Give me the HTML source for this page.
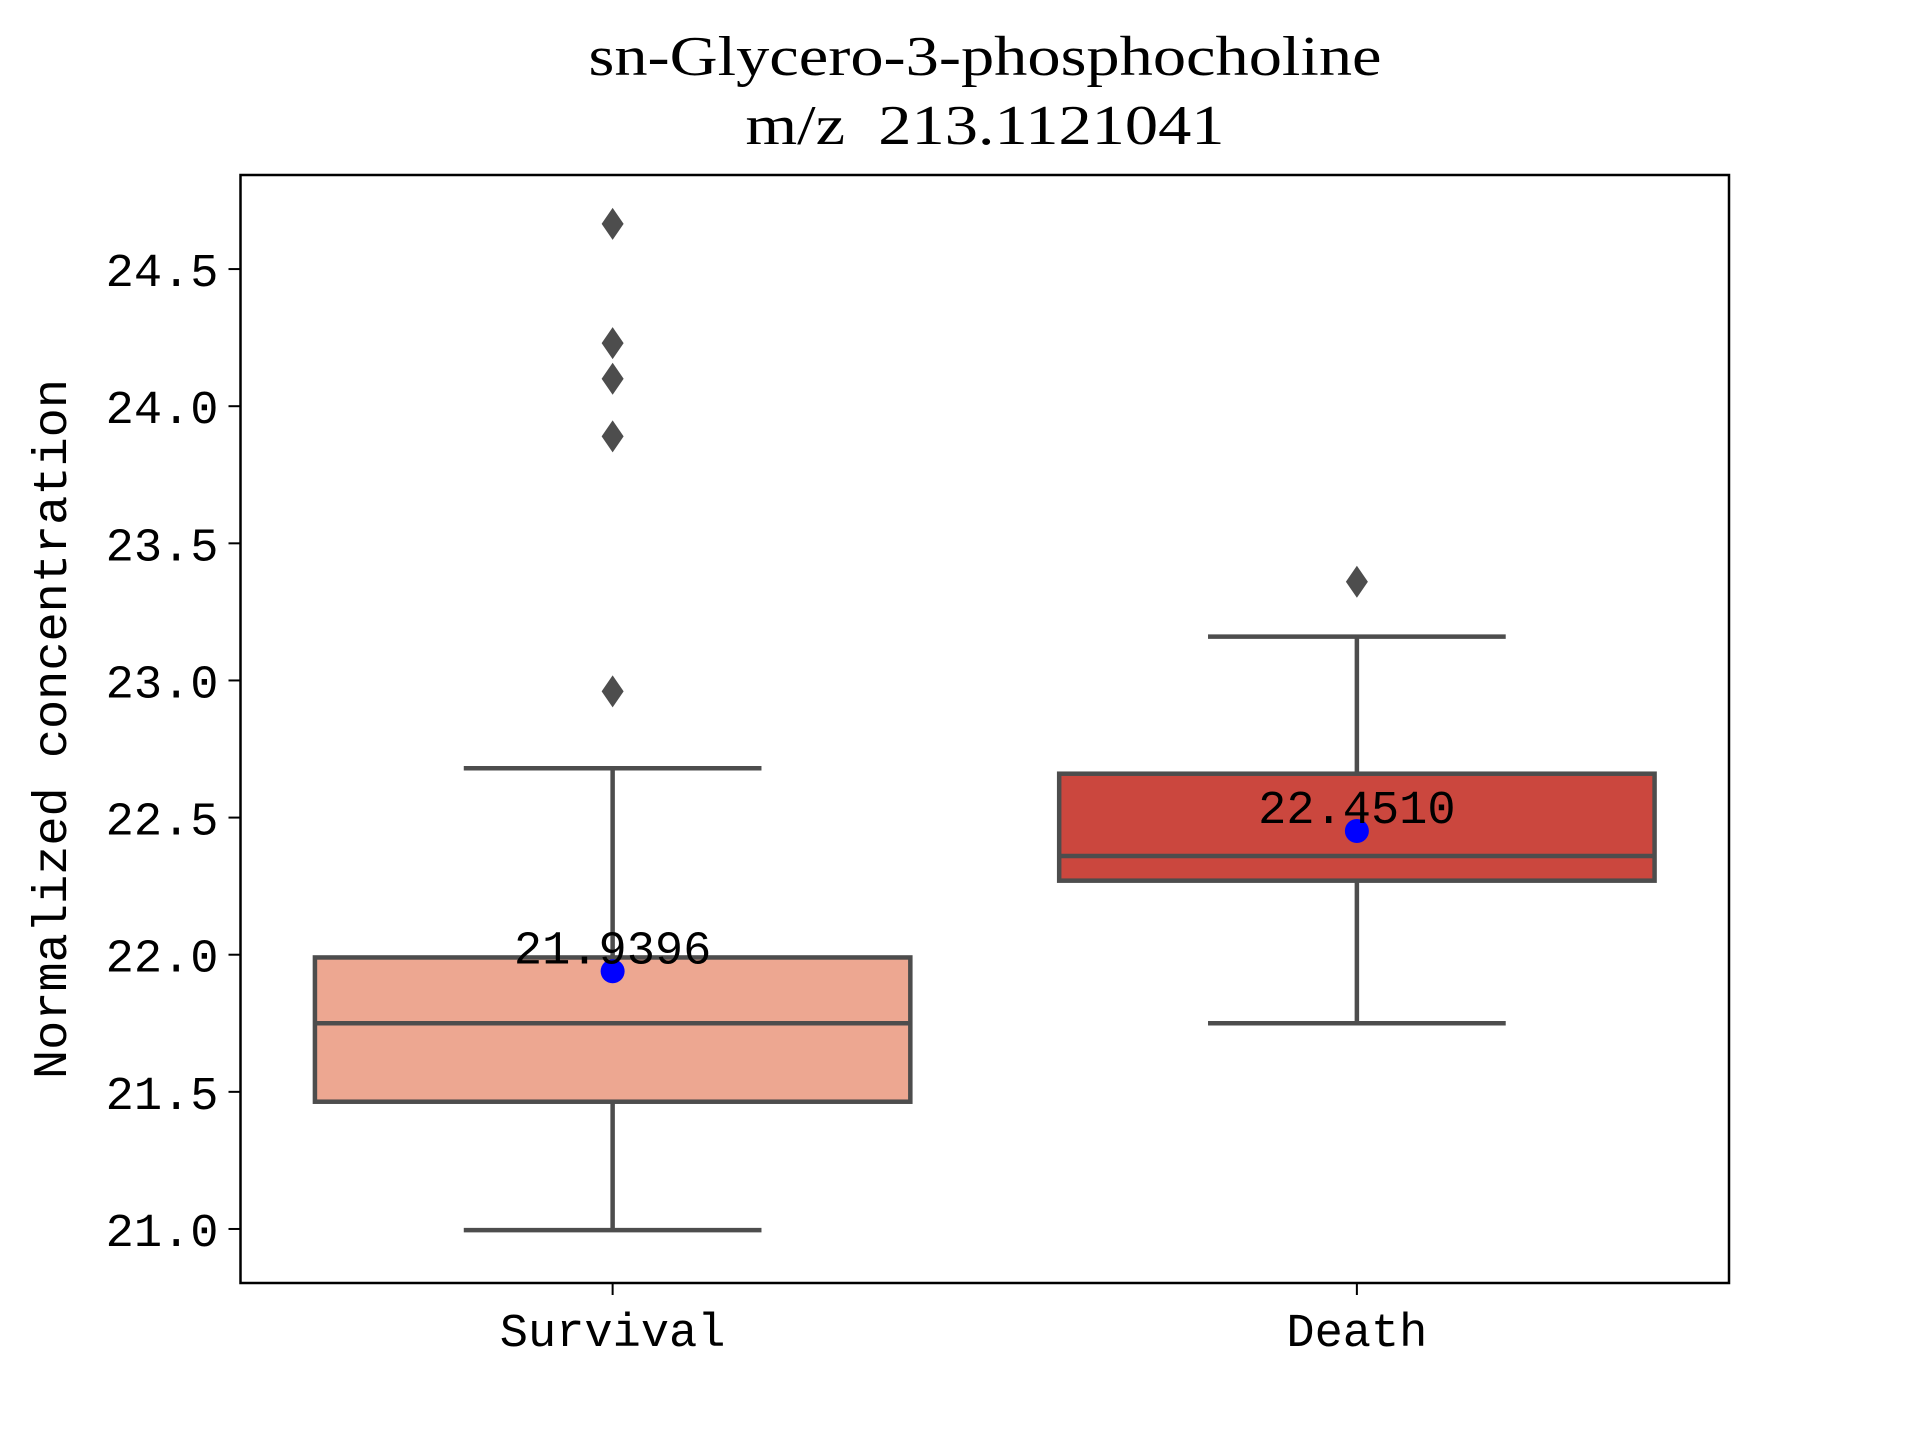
<!DOCTYPE html>
<html><head><meta charset="utf-8"><style>html,body{margin:0;padding:0;background:#fff}svg{display:block}</style></head>
<body>
<svg id="chart" width="1920" height="1440" xmlns="http://www.w3.org/2000/svg">
<rect width="1920" height="1440" fill="#fff"/>
<g id="title">
<text x="985" y="75" text-anchor="middle" font-family="'Liberation Serif', serif" font-size="56" textLength="793" lengthAdjust="spacingAndGlyphs">sn-Glycero-3-phosphocholine</text>
<text x="985" y="144" text-anchor="middle" font-family="'Liberation Serif', serif" font-size="56" textLength="479" lengthAdjust="spacingAndGlyphs" xml:space="preserve">m/z  213.1121041</text>
</g>
<g id="plot"></g>
<rect x="240.5" y="175" width="1488.5" height="1108" fill="none" stroke="#000" stroke-width="2.5"/>
<text transform="translate(66,729) rotate(-90)" text-anchor="middle" font-family="'Liberation Mono', monospace" font-size="48" textLength="700" lengthAdjust="spacingAndGlyphs">Normalized concentration</text>
</svg>
<script>
const categories = ["Survival", "Death"];
const whiskerLow = [20.996, 21.75];
const q1 = [21.464, 22.27];
const median = [21.75, 22.36];
const q3 = [21.99, 22.66];
const whiskerHigh = [22.68, 23.16];
const means = [21.9396, 22.4510];
const meanLabels = ["21.9396", "22.4510"];
const outliers = [[24.665, 24.23, 24.10, 23.89, 22.96], [23.36]];
const yTicks = [21.0, 21.5, 22.0, 22.5, 23.0, 23.5, 24.0, 24.5];
const yTickLabels = ["21.0", "21.5", "22.0", "22.5", "23.0", "23.5", "24.0", "24.5"];
const boxColors = ["#eda791", "#cb473e"];

const NS = "http://www.w3.org/2000/svg";
const L = 240.5, R = 1729, T = 175, B = 1283;
const yMin = 20.803, yMax = 24.843;
function yScale(v){ return B - (v - yMin) / (yMax - yMin) * (B - T); }
const band = (R - L) / categories.length;
function xScale(i){ return L + band * (i + 0.5); }
const boxW = band * 0.8;
const g = document.getElementById("plot");
function mk(tag, attrs, parent){ const e = document.createElementNS(NS, tag); for (const k in attrs) e.setAttribute(k, attrs[k]); (parent||g).appendChild(e); return e; }
const LC = "#4d4d4d", LW = 4.5;

yTicks.forEach((v, i) => {
  const y = yScale(v);
  const t = mk("line", {x1: L - 12, x2: L, y1: y, y2: y, stroke: "#000", "stroke-width": 2});
  
  
  const lb = mk("text", {x: L - 22, y: y + 17, "text-anchor": "end", "font-family": "'Liberation Mono', monospace", "font-size": 47});
  lb.textContent = yTickLabels[i];
  
  
});

categories.forEach((c, i) => {
  const cx = xScale(i);
  const grp = mk("g", {});
  
  
  const w1 = mk("line", {x1: cx, x2: cx, y1: yScale(q1[i]), y2: yScale(whiskerLow[i]), stroke: LC, "stroke-width": LW}, grp);
  
  
  const w2 = mk("line", {x1: cx, x2: cx, y1: yScale(q3[i]), y2: yScale(whiskerHigh[i]), stroke: LC, "stroke-width": LW}, grp);
  
  
  [whiskerLow[i], whiskerHigh[i]].forEach(v => {
    const cap = mk("line", {x1: cx - boxW / 4, x2: cx + boxW / 4, y1: yScale(v), y2: yScale(v), stroke: LC, "stroke-width": LW}, grp);
    
    
  });
  const box = mk("rect", {x: cx - boxW / 2, y: yScale(q3[i]), width: boxW, height: yScale(q1[i]) - yScale(q3[i]), fill: boxColors[i], stroke: LC, "stroke-width": LW}, grp);
  
  
  const md = mk("line", {x1: cx - boxW / 2, x2: cx + boxW / 2, y1: yScale(median[i]), y2: yScale(median[i]), stroke: LC, "stroke-width": LW}, grp);
  
  
  outliers[i].forEach(v => {
    const y = yScale(v);
    const o = mk("polygon", {points: `${cx},${y - 16} ${cx + 11},${y} ${cx},${y + 16} ${cx - 11},${y}`, fill: LC}, grp);
    
    
  });
  const dot = mk("circle", {cx: cx, cy: yScale(means[i]), r: 12, fill: "#0000ff"}, grp);
  
  
  const ml = mk("text", {x: cx, y: yScale(means[i]) - 8, "text-anchor": "middle", "font-family": "'Liberation Mono', monospace", "font-size": 47}, grp);
  ml.textContent = meanLabels[i];
  
  
  const xt = mk("line", {x1: cx, x2: cx, y1: B, y2: B + 12, stroke: "#000", "stroke-width": 2});
  
  
  const xl = mk("text", {x: cx, y: B + 63, "text-anchor": "middle", "font-family": "'Liberation Mono', monospace", "font-size": 47});
  xl.textContent = c;
  
  
});
</script>
</body></html>
